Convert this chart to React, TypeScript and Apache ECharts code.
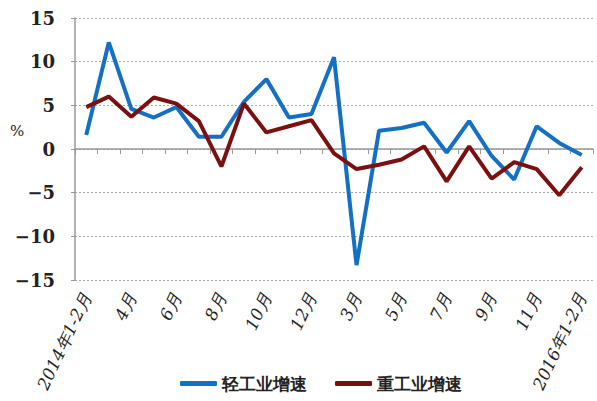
import React, { useEffect, useRef } from "react";
import * as echarts from "echarts";

// Month categories, Jan-Feb combined at the start of each year
const categories = [
  "2014年1-2月", "3月", "4月", "5月", "6月", "7月", "8月", "9月", "10月", "11月", "12月",
  "2015年1-2月", "3月", "4月", "5月", "6月", "7月", "8月", "9月", "10月", "11月", "12月",
  "2016年1-2月",
];

// Year-on-year growth, %
const lightIndustry = [
  1.6, 12.2, 4.6, 3.6, 4.8, 1.4, 1.4, 5.4, 8.0, 3.6, 4.0,
  10.5, -13.3, 2.1, 2.4, 3.0, -0.4, 3.2, -0.8, -3.5, 2.6, 0.7,
  -0.7,
];
const heavyIndustry = [
  4.8, 6.0, 3.7, 5.9, 5.2, 3.2, -2.0, 5.2, 1.9, 2.6, 3.3,
  -0.5, -2.3, -1.8, -1.2, 0.3, -3.7, 0.3, -3.4, -1.5, -2.3, -5.3,
  -2.1,
];

const seriesNames = ["轻工业增速", "重工业增速"];
const seriesColors = ["#1470c4", "#7a1010"];

const SERIF = "DejaVu Serif";

export default function App() {
  const ref = useRef<HTMLDivElement>(null);

  useEffect(() => {
    document.body.style.margin = "0";
    const chart = echarts.init(ref.current!, undefined, { renderer: "svg" });
    chart.setOption({
      animation: false,
      backgroundColor: "#ffffff",
      textStyle: { fontFamily: SERIF },
      grid: { left: 75, right: 4, top: 18, bottom: 121, containLabel: false },
      legend: {
        left: 175,
        top: 370,
        itemGap: 28,
        itemWidth: 37,
        itemHeight: 5,
        icon: "roundRect",
        textStyle: { fontFamily: SERIF, fontSize: 17, color: "#222", fontWeight: "bold" },
        data: seriesNames,
      },
      graphic: [
        {
          type: "text",
          left: 10,
          top: 123,
          style: { text: "%", fontFamily: SERIF, fontSize: 15, fill: "#222" },
        },
      ],
      xAxis: {
        type: "category",
        data: categories,
        boundaryGap: true,
        axisLine: { lineStyle: { color: "#999", width: 1.5 } },
        axisTick: { show: true, interval: 0, length: 5, lineStyle: { color: "#999" } },
        axisLabel: {
          interval: 1,
          rotate: 65,
          margin: 14,
          fontFamily: SERIF,
          fontStyle: "italic",
          fontSize: 17,
          color: "#222",
        },
        splitLine: { show: false },
      },
      yAxis: {
        type: "value",
        min: -15,
        max: 15,
        interval: 5,
        axisLine: { show: true, lineStyle: { color: "#999", width: 1.5 } },
        axisTick: { show: true, length: 4, lineStyle: { color: "#999" } },
        axisLabel: {
          margin: 20,
          fontFamily: SERIF,
          fontSize: 18,
          fontWeight: "bold",
          color: "#222",
          formatter: (v: number) => (v < 0 ? "\u2212" + Math.abs(v) : String(v)),
        },
        splitLine: { show: true, lineStyle: { color: "#aaa", type: [2, 2], width: 1 } },
      },
      series: [
        {
          name: seriesNames[0],
          type: "line",
          data: lightIndustry,
          symbol: "none",
          lineStyle: { width: 4, color: seriesColors[0] },
          itemStyle: { color: seriesColors[0] },
        },
        {
          name: seriesNames[1],
          type: "line",
          data: heavyIndustry,
          symbol: "none",
          lineStyle: { width: 4, color: seriesColors[1] },
          itemStyle: { color: seriesColors[1] },
        },
      ],
    });
    return () => chart.dispose();
  }, []);

  return (
    <div
      ref={ref}
      style={{ position: "fixed", left: 0, top: 0, width: 597, height: 401 }}
    />
  );
}
